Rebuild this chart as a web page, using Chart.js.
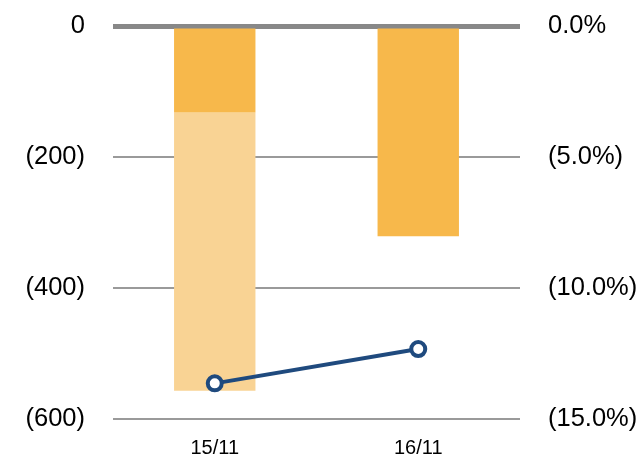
<!DOCTYPE html>
<html>
<head>
<meta charset="utf-8">
<script src="https://cdn.jsdelivr.net/npm/chart.js@4/dist/chart.umd.min.js"></script>
<style>
  html, body { margin: 0; padding: 0; background: #fff; overflow: hidden; }
  #graph-container { width: 642px; height: 470px; }
</style>
</head>
<body>
<div id="graph-container"><canvas id="myChart"></canvas></div>
<script>
const categorias = ['15/11', '16/11'];
const valores_base = [-132, -321];
const valores_extra = [-425, null];
const valores_pct = [-13.64, -12.33];
const ticks_izq = [0, -200, -400, -600];
const ticks_der = [0, -5, -10, -15];

const fuente = 'Liberation Sans, Arial, sans-serif';

function formatoNum(v) {
  return v < 0 ? '(' + Math.abs(v) + ')' : String(v);
}
function formatoPct(v) {
  return v < 0 ? '(' + Math.abs(v).toFixed(1) + '%)' : v.toFixed(1) + '%';
}

// sin relleno automatico arriba/abajo, el area la fija layout.padding
const sinPadding = (s, ancho) => {
  s.width = ancho;
  s.paddingTop = 0;
  s.paddingBottom = 0;
};

const ctx = document.getElementById('myChart');
const myChart = new Chart(ctx, {
  type: 'bar',
  data: {
    labels: categorias,
    datasets: [
      {
        type: 'line',
        data: valores_pct,
        yAxisID: 'y2',
        borderColor: '#1F4A7E',
        borderWidth: 4,
        pointRadius: 7,
        pointBorderWidth: 4,
        pointBackgroundColor: '#ffffff',
        pointBorderColor: '#1F4A7E',
        order: 0
      },
      {
        data: valores_base,
        backgroundColor: '#F7B84B',
        yAxisID: 'y',
        stack: 's1',
        barPercentage: 0.4,
        categoryPercentage: 1,
        order: 1
      },
      {
        data: valores_extra,
        backgroundColor: '#F9D394',
        yAxisID: 'y',
        stack: 's1',
        barPercentage: 0.4,
        categoryPercentage: 1,
        order: 2
      }
    ]
  },
  options: {
    responsive: true,
    maintainAspectRatio: false,
    animation: false,
    layout: { padding: { top: 26, left: 0, right: 0, bottom: 0 } },
    plugins: {
      legend: { display: false },
      tooltip: { enabled: false }
    },
    scales: {
      x: {
        grid: { display: false, drawTicks: false },
        border: { display: false },
        ticks: { color: '#000', font: { family: fuente, size: 20 }, padding: 17 },
        afterFit: (s) => { s.height = 51; s.paddingLeft = 0; s.paddingRight = 0; }
      },
      y: {
        stacked: true,
        min: -600,
        max: 0,
        position: 'left',
        afterBuildTicks: (s) => { s.ticks = ticks_izq.map(v => ({ value: v })); },
        afterFit: (s) => sinPadding(s, 113),
        grid: {
          drawTicks: false,
          color: (c) => c.tick && c.tick.value === 0 ? '#888888' : '#9a9a9a',
          lineWidth: (c) => c.tick && c.tick.value === 0 ? 5 : 2
        },
        border: { display: false },
        ticks: {
          color: '#000',
          font: { family: fuente, size: 25.5 },
          padding: 28,
          callback: formatoNum
        }
      },
      y2: {
        min: -15,
        max: 0,
        position: 'right',
        afterBuildTicks: (s) => { s.ticks = ticks_der.map(v => ({ value: v })); },
        afterFit: (s) => sinPadding(s, 122),
        grid: { display: false, drawTicks: false },
        border: { display: false },
        ticks: {
          color: '#000',
          font: { family: fuente, size: 25.5 },
          padding: 28,
          callback: formatoPct
        }
      }
    }
  }
});
</script>
</body>
</html>
